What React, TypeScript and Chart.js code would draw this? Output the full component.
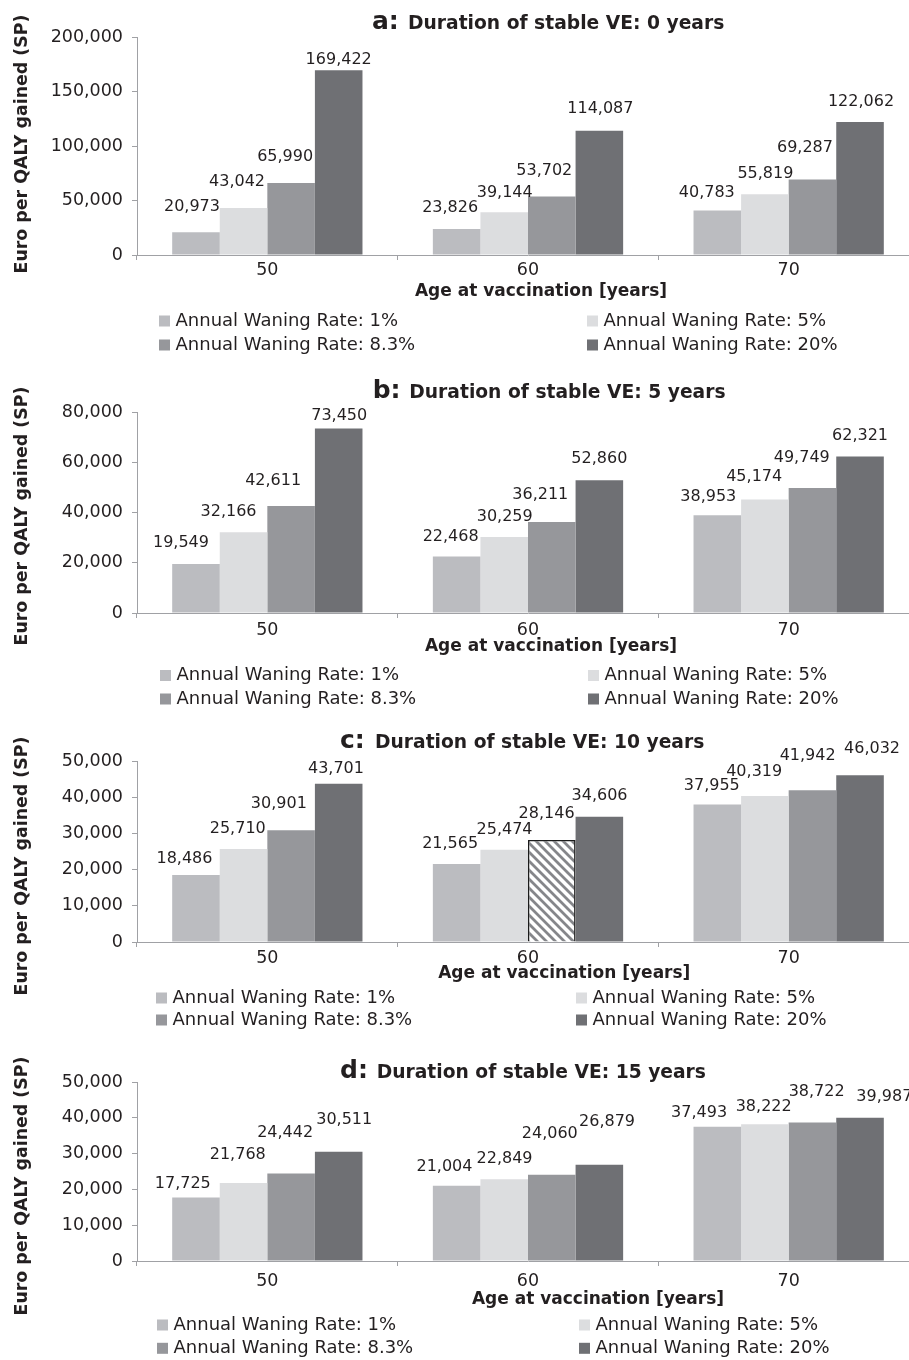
import React, { useEffect, useRef } from 'react';
import { Chart, registerables } from 'chart.js';

Chart.register(...registerables);

// ---------- data ----------
const ageGroups = ['50', '60', '70'];
const seriesNames = [
  'Annual Waning Rate: 1%',
  'Annual Waning Rate: 5%',
  'Annual Waning Rate: 8.3%',
  'Annual Waning Rate: 20%',
];

// series order: 1%, 5%, 8.3%, 20%; each list = ages 50, 60, 70
const stable0Years = [
  [20973, 23826, 40783],
  [43042, 39144, 55819],
  [65990, 53702, 69287],
  [169422, 114087, 122062],
];
const stable5Years = [
  [19549, 22468, 38953],
  [32166, 30259, 45174],
  [42611, 36211, 49749],
  [73450, 52860, 62321],
];
const stable10Years = [
  [18486, 21565, 37955],
  [25710, 25474, 40319],
  [30901, 28146, 41942],
  [43701, 34606, 46032],
];
const stable15Years = [
  [17725, 21004, 37493],
  [21768, 22849, 38222],
  [24442, 24060, 38722],
  [30511, 26879, 39987],
];

const yMaxA = 200000, yStepA = 50000;
const yMaxB = 80000, yStepB = 20000;
const yMaxC = 50000, yStepC = 10000;
const yMaxD = 50000, yStepD = 10000;

const panelLetters = ['a', 'b', 'c', 'd'];
const panelTitles = [
  'Duration of stable VE: 0 years',
  'Duration of stable VE: 5 years',
  'Duration of stable VE: 10 years',
  'Duration of stable VE: 15 years',
];
const yAxisTitle = 'Euro per QALY gained (SP)';
const xAxisTitle = 'Age at vaccination [years]';

// ---------- style ----------
const FONT = "'DejaVu Sans'";
const TEXT = '#231f20';
const AXIS = '#a0a1a5';
const COLORS = ['#bbbcc0', '#dcdddf', '#96979b', '#6f7074'];

// data label nudges [dx, dy] relative to the bar's top centre (per series, per age group)
const labelShiftA = [
  [[-4, -25], [-6.5, -21], [-10.5, -17.5]],
  [[-6.5, -26], [0.5, -19], [0.5, -20]],
  [[-6, -26], [-7.5, -25.5], [-7.5, -31.5]],
  [[0, -10.7], [1, -21.6], [1, -20]],
];
const labelShiftB = [
  [[-15, -20.6], [-6, -20], [-9, -17.8]],
  [[-15, -20], [0.5, -20], [-10.7, -22.8]],
  [[-18, -25], [-11.5, -27], [-10.7, -29.7]],
  [[0.5, -12.5], [0, -21], [0, -20.4]],
];
const labelShiftC = [
  [[-11.5, -16], [-6.5, -20], [-5.5, -18.6]],
  [[-5.8, -19.6], [0.3, -19.8], [-10.7, -24.3]],
  [[-12.3, -25.8], [-5.2, -25.8], [-4.8, -34.2]],
  [[-2.7, -14.8], [0.2, -20.7], [12, -26.1]],
];
const labelShiftD = [
  [[-13.2, -14.2], [-12.2, -18.5], [-18.2, -13.5]],
  [[-5.8, -28.1], [0.3, -19.9], [-1.2, -17.5]],
  [[-6, -40.8], [-2, -40.6], [4.2, -30.7]],
  [[5.5, -31.8], [7.7, -43.1], [24.3, -21.1]],
];

// page layout (page pixel coordinates)
const layouts = [
  { top: 0, height: 360, chartTop: 37, chartBottom: 255, tickPad: -0.5,
    xTitle: [541, 292], yTitle: [22, 144], title: [372, 408, 29.3], legend: [159, 587, 321, 345] },
  { top: 360, height: 350, chartTop: 412, chartBottom: 613, tickPad: 2.2,
    xTitle: [551, 647], yTitle: [22, 516], title: [372.7, 409.3, 397.7], legend: [160, 588, 675.5, 699] },
  { top: 710, height: 325, chartTop: 761, chartBottom: 942, tickPad: 0.8,
    xTitle: [564.3, 974], yTitle: [22.5, 866], title: [340, 375, 748.3], legend: [156, 576, 998, 1020] },
  { top: 1035, height: 325, chartTop: 1082, chartBottom: 1261, tickPad: 5.2,
    xTitle: [598, 1300], yTitle: [22, 1186], title: [340, 376.7, 1078.3], legend: [157, 579, 1325, 1348.3] },
];

const CANVAS_W = 930;
const PLOT_LEFT = 137;
const PLOT_RIGHT = 919;

const panels = [
  { values: stable0Years, yMax: yMaxA, yStep: yStepA, shifts: labelShiftA, hatch: null },
  { values: stable5Years, yMax: yMaxB, yStep: yStepB, shifts: labelShiftB, hatch: null },
  { values: stable10Years, yMax: yMaxC, yStep: yStepC, shifts: labelShiftC, hatch: [2, 1] },
  { values: stable15Years, yMax: yMaxD, yStep: yStepD, shifts: labelShiftD, hatch: null },
];

function makeHatch(): CanvasPattern | string {
  const c = document.createElement('canvas');
  c.width = 9;
  c.height = 9;
  const g = c.getContext('2d');
  if (!g) return '#fff';
  g.fillStyle = '#ffffff';
  g.fillRect(0, 0, 9, 9);
  g.strokeStyle = '#85868a';
  g.lineWidth = 2.8;
  g.beginPath();
  for (const o of [-9, 0, 9]) {
    g.moveTo(o - 1, -1);
    g.lineTo(o + 10, 10);
  }
  g.stroke();
  return g.createPattern(c, 'repeat') || '#fff';
}

const fmt = (v: number) => v.toLocaleString('en-US');

function Panel({ index }: { index: number }) {
  const ref = useRef<HTMLCanvasElement>(null);
  const L = layouts[index];
  useEffect(() => {
    if (!ref.current) return;
    const P = panels[index];
    const top = L.top;
    const hatch = makeHatch();
    const isHatch = (si: number, gi: number) => !!P.hatch && P.hatch[0] === si && P.hatch[1] === gi;

    const datasets = P.values.map((vals, si) => ({
      label: seriesNames[si],
      data: vals,
      backgroundColor: vals.map((_, gi) => (isHatch(si, gi) ? hatch : COLORS[si])),
      borderColor: vals.map((_, gi) => (isHatch(si, gi) ? '#1b1b1b' : COLORS[si])),
      borderWidth: vals.map((_, gi) => (isHatch(si, gi) ? 1.5 : 0)),
      categoryPercentage: 0.73,
      barPercentage: 1,
    }));

    const decor = {
      id: 'decor',
      afterDraw(chart: any) {
        const ctx = chart.ctx as CanvasRenderingContext2D;
        ctx.save();
        ctx.fillStyle = TEXT;
        // data labels
        ctx.font = `16px ${FONT}`;
        ctx.textAlign = 'center';
        ctx.textBaseline = 'middle';
        chart.data.datasets.forEach((ds: any, si: number) => {
          const meta = chart.getDatasetMeta(si);
          meta.data.forEach((el: any, gi: number) => {
            const [dx, dy] = P.shifts[si][gi];
            ctx.fillText(fmt(ds.data[gi]), el.x + dx, el.y + dy);
          });
        });
        // title
        const [lx, tx, tb] = L.title;
        ctx.textAlign = 'left';
        ctx.textBaseline = 'alphabetic';
        ctx.font = `bold 25px ${FONT}`;
        ctx.fillText(panelLetters[index] + ':', lx, tb - top);
        ctx.font = `bold 18.7px ${FONT}`;
        ctx.fillText(panelTitles[index], tx, tb - top);
        // x title
        ctx.textAlign = 'center';
        ctx.textBaseline = 'middle';
        ctx.font = `bold 17px ${FONT}`;
        ctx.fillText(xAxisTitle, L.xTitle[0], L.xTitle[1] - top);
        // y title
        ctx.save();
        ctx.translate(L.yTitle[0], L.yTitle[1] - top);
        ctx.rotate(-Math.PI / 2);
        ctx.font = `bold 17.4px ${FONT}`;
        ctx.fillText(yAxisTitle, 0, 0);
        ctx.restore();
        // legend
        const [x1, x2, y1, y2] = L.legend;
        const pos = [[x1, y1], [x2, y1], [x1, y2], [x2, y2]];
        ctx.font = `18px ${FONT}`;
        ctx.textAlign = 'left';
        ctx.textBaseline = 'middle';
        seriesNames.forEach((name, si) => {
          const [mx, my] = pos[si];
          const yy = my - top;
          ctx.fillStyle = COLORS[si];
          ctx.fillRect(mx, yy - 5.5, 11, 11);
          ctx.fillStyle = TEXT;
          ctx.fillText(name, mx + 16.5, yy);
        });
        ctx.restore();
      },
    };

    const chart = new Chart(ref.current, {
      type: 'bar',
      data: { labels: ageGroups, datasets },
      options: {
        responsive: false,
        maintainAspectRatio: false,
        animation: false,
        devicePixelRatio: 1,
        layout: {
          padding: { top: L.chartTop - top, bottom: 0, left: 0, right: CANVAS_W - PLOT_RIGHT },
        },
        plugins: {
          legend: { display: false },
          title: { display: false },
          tooltip: { enabled: false },
        },
        scales: {
          x: {
            offset: true,
            grid: {
              display: true,
              offset: true,
              drawOnChartArea: false,
              drawTicks: true,
              tickLength: 5,
              color: AXIS,
              lineWidth: 1,
            },
            border: { display: true, color: AXIS, width: 1 },
            ticks: {
              color: TEXT,
              font: { family: 'DejaVu Sans', size: 17.5 },
              padding: L.tickPad,
              maxRotation: 0,
            },
            afterFit: (s: any) => {
              s.height = L.height - (L.chartBottom - top);
            },
          },
          y: {
            min: 0,
            max: P.yMax,
            grid: {
              display: true,
              drawOnChartArea: false,
              drawTicks: true,
              tickLength: 5,
              color: AXIS,
              lineWidth: 1,
            },
            border: { display: true, color: AXIS, width: 1 },
            ticks: {
              stepSize: P.yStep,
              color: TEXT,
              font: { family: 'DejaVu Sans', size: 17.5 },
              padding: 9,
              callback: (v: any) => fmt(Number(v)),
            },
            afterFit: (s: any) => {
              s.width = PLOT_LEFT;
            },
          },
        },
      },
      plugins: [decor],
    } as any);
    return () => chart.destroy();
  }, []);
  return (
    <canvas
      ref={ref}
      width={CANVAS_W}
      height={L.height}
      style={{ position: 'absolute', left: 0, top: L.top, width: CANVAS_W, height: L.height, display: 'block' }}
    />
  );
}

export default function App() {
  return (
    <div
      style={{
        position: 'absolute',
        left: 0,
        top: 0,
        width: 909,
        height: 1360,
        overflow: 'hidden',
        background: '#ffffff',
      }}
    >
      {panels.map((_, i) => (
        <Panel key={i} index={i} />
      ))}
    </div>
  );
}
